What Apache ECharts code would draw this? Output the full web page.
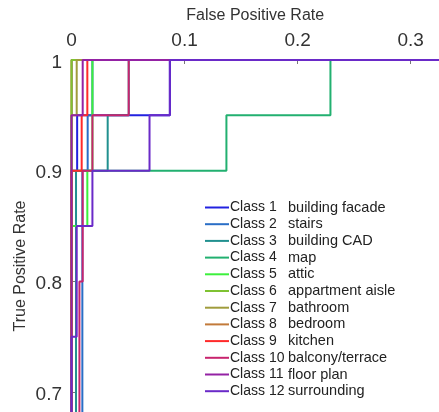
<!DOCTYPE html>
<html><head><meta charset="utf-8">
<script src="https://cdn.jsdelivr.net/npm/echarts@6/dist/echarts.min.js"></script>
<style>html,body{margin:0;padding:0;background:#fff}#c{width:439px;height:412px}</style>
</head><body><div id="c"></div>
<script>
const classNames = ['Class 1','Class 2','Class 3','Class 4','Class 5','Class 6','Class 7','Class 8','Class 9','Class 10','Class 11','Class 12'];
const classLabels = ['building facade','stairs','building CAD','map','attic','appartment aisle','bathroom','bedroom','kitchen','balcony/terrace','floor plan','surrounding'];
const colors = ['#2222e0','#2a6ec6','#21908f','#22b070','#3cf03c','#7fc232','#a09c3c','#c27a3a','#ff2a2a','#c8246e','#9422a4','#6a2ac8'];
const xTicks = [0, 0.1, 0.2, 0.3];
const yTicks = [0.7, 0.8, 0.9, 1];

const fpr1 = [0, 0, 0.005, 0.005, 0.087, 0.087, 1];
const tpr1 = [0, 0.9, 0.9, 0.95, 0.95, 1, 1];
const fpr2 = [0, 0, 0.0096, 0.0096, 0.0143, 0.0143, 0.0185, 0.0185, 1];
const tpr2 = [0, 0.55, 0.55, 0.9, 0.9, 0.95, 0.95, 1, 1];
const fpr3 = [0, 0, 0.004, 0.004, 0.032, 0.032, 0.0506, 0.0506, 1];
const tpr3 = [0, 0.6, 0.6, 0.9, 0.9, 0.95, 0.95, 1, 1];
const fpr4 = [0, 0, 0.137, 0.137, 0.229, 0.229, 1];
const tpr4 = [0, 0.9, 0.9, 0.95, 0.95, 1, 1];
const fpr5 = [0, 0, 0.014, 0.014, 0.0185, 0.0185, 1];
const tpr5 = [0, 0.85, 0.85, 0.9, 0.9, 1, 1];
const fpr6 = [0, 0, 1];
const tpr6 = [0, 1, 1];
const fpr7 = [0, 0, 0.0046, 0.0046, 1];
const tpr7 = [0, 0.95, 0.95, 1, 1];
const fpr8 = [0, 0, 1];
const tpr8 = [0, 1, 1];
const fpr9 = [0, 0, 0.009, 0.009, 0.014, 0.014, 1];
const tpr9 = [0, 0.9, 0.9, 0.95, 0.95, 1, 1];
const fpr10 = [0, 0, 0.007, 0.007, 0.0099, 0.0099, 0.0185, 0.0185, 0.0506, 0.0506, 1];
const tpr10 = [0, 0.6, 0.6, 0.8, 0.8, 0.9, 0.9, 0.95, 0.95, 1, 1];
const fpr11 = [0, 0, 0.0099, 0.0099, 1];
const tpr11 = [0, 0.95, 0.95, 1, 1];
const fpr12 = [0, 0, 0.0046, 0.0046, 0.0185, 0.0185, 0.069, 0.069, 0.087, 0.087, 1];
const tpr12 = [0, 0.75, 0.75, 0.85, 0.85, 0.9, 0.9, 0.95, 0.95, 1, 1];

const fprs = [fpr1,fpr2,fpr3,fpr4,fpr5,fpr6,fpr7,fpr8,fpr9,fpr10,fpr11,fpr12];
const tprs = [tpr1,tpr2,tpr3,tpr4,tpr5,tpr6,tpr7,tpr8,tpr9,tpr10,tpr11,tpr12];
const zs = [2,2,2,2,2,2,2,1,2,2,2,2];

const labelMap = {};
classNames.forEach((n,i)=>labelMap[n]=classLabels[i]);

const series = classNames.map((n,i)=>({
  name: n, type: 'line', z: zs[i],
  data: fprs[i].map((x,j)=>[x, tprs[i][j]]),
  symbol: 'none', showSymbol: false, clip: true, animation: false,
  lineStyle: {color: colors[i], width: 2},
  itemStyle: {color: colors[i]}
}));

const chart = echarts.init(document.getElementById('c'));
chart.setOption({
  animation: false,
  color: colors,
  grid: {left: 71.5, top: 60, right: 0, bottom: 0, containLabel: false},
  xAxis: {
    type: 'value', position: 'top', min: 0, max: 0.325,
    name: 'False Positive Rate', nameLocation: 'middle', nameGap: 36,
    nameTextStyle: {fontFamily: 'Liberation Sans', fontSize: 16, color: '#333'},
    axisLine: {show: true, lineStyle: {color: '#8a8a8a', width: 1.5}},
    axisTick: {show: true, inside: true, length: 4, lineStyle: {color: '#777'}, customValues: xTicks},
    axisLabel: {customValues: xTicks, formatter: v => String(v), margin: 10, fontFamily: 'Liberation Sans', fontSize: 19, color: '#333'},
    splitLine: {show: false}
  },
  yAxis: {
    type: 'value', min: 0.682, max: 1,
    name: 'True Positive Rate', nameLocation: 'middle', nameGap: 43, nameMoveOverlap: false,
    nameTextStyle: {fontFamily: 'Liberation Sans', fontSize: 16, color: '#333', padding: [0, 60, 0, 0]},
    axisLine: {show: true, lineStyle: {color: '#8a8a8a', width: 1.5}},
    axisTick: {show: true, inside: true, length: 4, lineStyle: {color: '#777'}, customValues: yTicks},
    axisLabel: {
      customValues: yTicks, formatter: v => '{v|' + v + '}', margin: 9.5,
      rich: {v: {fontFamily: 'Liberation Sans', fontSize: 19, color: '#333', padding: [5, 0, 0, 0]}}
    },
    splitLine: {show: false}
  },
  legend: {
    orient: 'vertical', left: 205, top: 200, padding: 0,
    itemWidth: 24, itemHeight: 14, itemGap: 1.7,
    icon: 'path://M0,6 L24,6 L24,8 L0,8 Z',
    data: classNames,
    formatter: n => '{a|' + n + '}{b|' + labelMap[n] + '}',
    textStyle: {
      padding: [0,0,0,-4],
      rich: {
        a: {fontFamily: 'Liberation Sans', fontSize: 14, lineHeight: 15, color: '#222', width: 58},
        b: {fontFamily: 'Liberation Sans', fontSize: 14.5, lineHeight: 15, color: '#222'}
      }
    }
  },
  series: series
});
</script></body></html>
